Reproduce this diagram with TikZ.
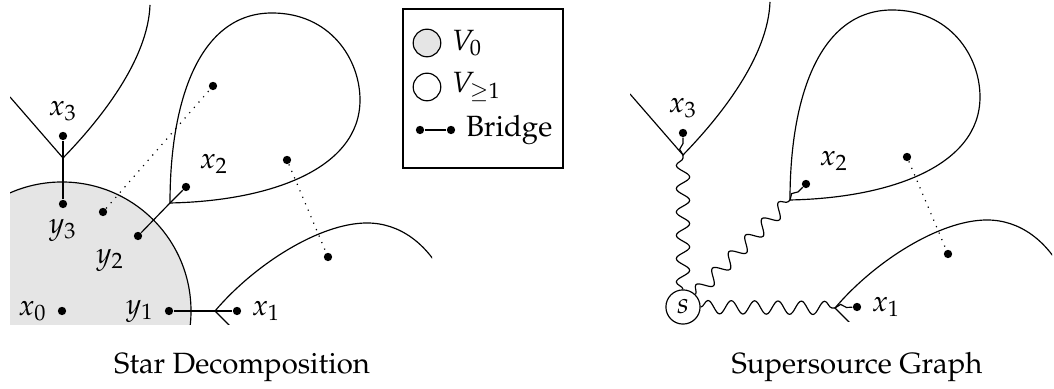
\documentclass[tikz,border=0pt]{standalone}
\usepackage[T1]{fontenc}
\usepackage{mathpazo}
\usepackage{tikz}
\usetikzlibrary{positioning,decorations.pathmorphing}
\colorlet{CoreGrey}{black!10}
\tikzset{
  vtx/.style={circle,fill=black,inner sep=0pt,minimum size=1mm},
  wavy/.style={decorate,decoration={snake,amplitude=0.8mm,segment length=2.8mm}},
  wavylet/.style={decorate,decoration={snake,amplitude=0.4mm,segment length=2.2mm}},
}
\newcommand{\regionoutlines}{%
  \draw (10,292) -- (63,231) .. controls (100,269) and (148,329) .. (150,384);
  \draw (170,186) .. controls (170,290) and (200,376) .. (272,376) .. controls (330,376) and (360,330) .. (360,289) .. controls (360,220) and (270,188) .. cycle;
  \draw (235,58) -- (215,78) .. controls (255,125) and (320,166) .. (367,166) .. controls (400,166) and (428,145) .. (445,110);
}
\begin{document}
\begin{tikzpicture}[x=0.12mm,y=0.12mm]
  \useasboundingbox (0,0) rectangle (1054,389);
  \begin{scope}
    \clip (10,64) rectangle (432,384);
    \draw[fill=CoreGrey] (62,78) circle (129);
    \regionoutlines
  \end{scope}
  \coordinate (cA) at (63,231);
  \coordinate (cB) at (170,186);
  \coordinate (cC) at (215,78);
  \node[vtx,label=left:$x_0$] (x0) at (62,78) {};
  \node[vtx,label=left:$y_1$] (y1) at (169,78) {};
  \node[vtx,label=right:$x_1$] (x1) at (237,78) {};
  \node[vtx,label=below left:$y_2$] (y2) at (138,153) {};
  \node[vtx,label=above right:$x_2$] (x2) at (186,202) {};
  \node[vtx,label=below:$y_3$] (y3) at (63,185) {};
  \node[vtx,label=above:$x_3$] (x3) at (63,253) {};
  \node[vtx] (p1) at (103,177) {};
  \node[vtx] (p2) at (213,303) {};
  \node[vtx] (q1) at (287,229) {};
  \node[vtx] (q2) at (328,132) {};
  \draw (y1) -- (cC) -- (x1);
  \draw (y2) -- (cB) -- (x2);
  \draw (y3) -- (cA) -- (x3);
  \draw[dotted] (p1) -- (p2);
  \draw[dotted] (q1) -- (q2);
  \draw (403,221) rectangle (563,380);
  \node[circle,draw,fill=CoreGrey,minimum size=3.1mm] (legcore) at (427,346) {};
  \node[right=0pt of legcore] (legcoretext) {$V_0$};
  \node[circle,draw,minimum size=3.1mm] (legrest) at (427,302) {};
  \node[right=0pt of legrest] (legresttext) {$V_{\geq 1}$};
  \node[vtx] (legb1) at (420,259) {};
  \node[vtx] (legb2) at (451,259) {};
  \draw (legb1) -- (legb2);
  \node[right=0pt of legb2] (legbtext) {Bridge};
  \node (capleft) at (242,22) {Star Decomposition};
  \begin{scope}[shift={(620,3)}]
    \begin{scope}
      \clip (10,64) rectangle (432,384);
      \regionoutlines
    \end{scope}
    \coordinate (sA) at (63,231);
    \coordinate (sB) at (170,186);
    \coordinate (sC) at (215,78);
    \node[circle,draw,inner sep=0pt,minimum size=4.1mm] (s) at (63,79) {$s$};
    \node[vtx,label=right:$x_1$] (sx1) at (237,79) {};
    \node[vtx,label=above right:$x_2$] (sx2) at (186,202) {};
    \node[vtx,label=above:$x_3$] (sx3) at (63,253) {};
    \node[vtx] (sq1) at (287,229) {};
    \node[vtx] (sq2) at (328,132) {};
    \draw[wavy] (s) -- (sA);
    \draw[wavy] (s) -- (sB);
    \draw[wavy] (s) -- (sC);
    \draw[wavylet] (sA) -- (sx3);
    \draw[wavylet] (sB) -- (sx2);
    \draw[wavylet] (sC) -- (sx1);
    \draw[dotted] (sq1) -- (sq2);
  \end{scope}
  \node (capright) at (857,22) {Supersource Graph};
\end{tikzpicture}
\end{document}
